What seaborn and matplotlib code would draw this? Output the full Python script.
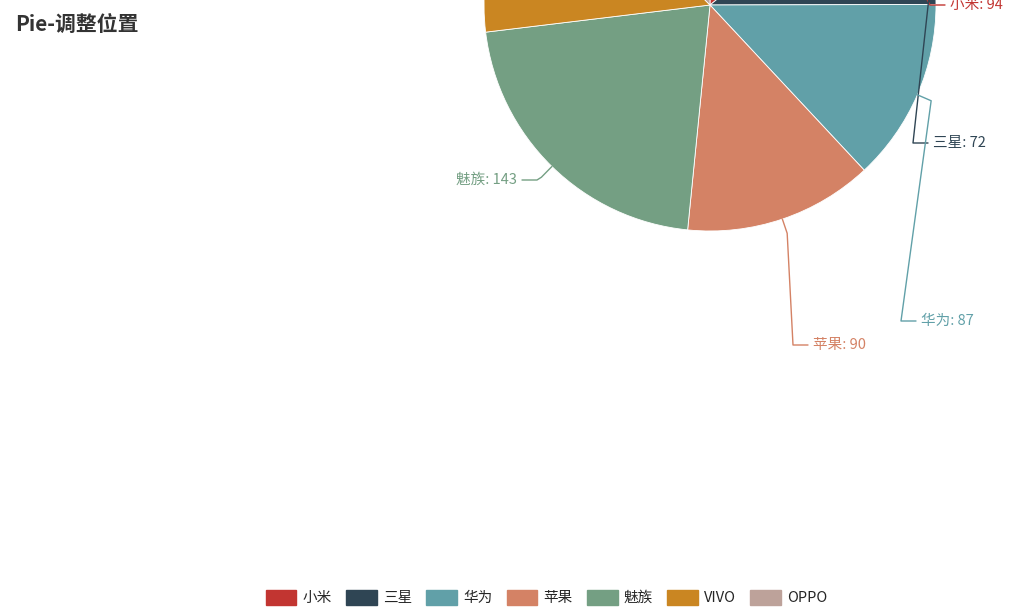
import numpy as np
import matplotlib.pyplot as plt
import matplotlib.patches as mpatches
import seaborn as sns

sns.set_theme(style="white")
plt.rcParams['font.family'] = ['Noto Sans CJK SC', 'DejaVu Sans']

names = ['小米', '三星', '华为', '苹果', '魅族', 'VIVO', 'OPPO']
values = [94, 72, 87, 90, 143, 96, 83]
colors = ['#c23531', '#2f4554', '#61a0a8', '#d48265', '#749f83', '#ca8622', '#bda29a']

fig = plt.figure(figsize=(10.31, 6.15), dpi=100)
ax = fig.add_axes([0, 0, 1, 1])
ax.set_xlim(0, 1031)
ax.set_ylim(615, 0)
ax.set_aspect('equal')
ax.axis('off')

cx, cy, r = 710, 5, 226
wedges, _ = ax.pie(values, colors=colors, center=(cx, cy), radius=r,
                   startangle=-90, counterclock=True,
                   wedgeprops=dict(edgecolor='white', linewidth=0.6))
ax.set_xlim(0, 1031)
ax.set_ylim(615, 0)

# label layout (x of text, y of text, text side)
label_pos = {0: (950, 5, 'left'), 1: (933, 143, 'left'), 2: (921, 321, 'left'),
             3: (813, 345, 'left'), 4: (517, 180, 'right')}
for i, (tx, ty, ha) in label_pos.items():
    w = wedges[i]
    mid = np.deg2rad((w.theta1 + w.theta2) / 2)
    ex, ey = cx + r * np.cos(mid), cy + r * np.sin(mid)
    kx, ky = cx + (r + 15) * np.cos(mid), cy + (r + 15) * np.sin(mid)
    hx = tx - 5 if ha == 'left' else tx + 5
    hx2 = hx - 15 if ha == 'left' else hx + 15
    ax.plot([ex, kx, hx2, hx], [ey, ky, ty, ty], color=colors[i], lw=1)
    ax.text(tx, ty, f'{names[i]}: {values[i]}', color=colors[i], fontsize=10.5,
            ha=ha, va='center')

fig.text(0.015, 0.96, 'Pie-调整位置', fontsize=15, fontweight='bold',
         color='#333333', va='center')

handles = [mpatches.FancyBboxPatch((0, 0), 1, 1, color=c) for c in colors]
handles = [mpatches.Patch(color=c) for c in colors]
fig.legend(handles, names, loc='lower center', ncol=7, frameon=False,
           bbox_to_anchor=(0.53, -0.005), fontsize=10.5, handlelength=2.1,
           handleheight=1.2, columnspacing=1.0, handletextpad=0.4)

fig.savefig('out.png', dpi=100)
